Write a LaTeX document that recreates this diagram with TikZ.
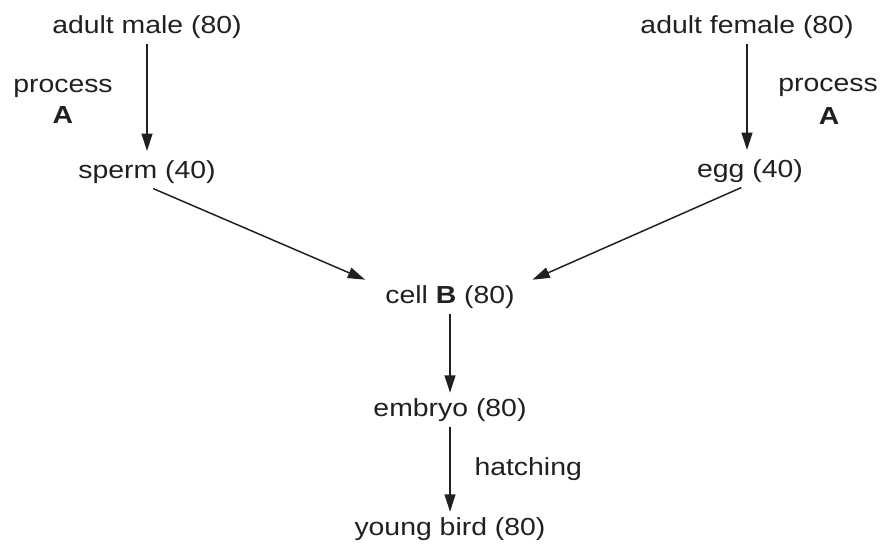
\documentclass[tikz,border=0pt]{standalone}
\usepackage{fontspec}
\setmainfont[FakeStretch=1.15]{Liberation Sans}
\usetikzlibrary{positioning,arrows.meta}
\definecolor{inkgray}{HTML}{231F20}

\begin{document}
\begin{tikzpicture}[
    x=0.405pt, y=-0.405pt,
    every node/.style={font=\fontsize{10}{12}\selectfont, text=inkgray},
    stage/.style={anchor=base, inner sep=2pt},
    note/.style={anchor=base, inner sep=0pt, align=center},
    arr/.style={-{Triangle[length=7pt, width=4.4pt]}, line width=0.6pt, draw=inkgray},
]
\useasboundingbox (0,0) rectangle (884,553);

% === Parents ===
\node[stage] (male) at (147,33) {adult male (80)};
\node[stage] (female) at (747,33) {adult female (80)};

% === Gametes ===
\node[stage] (sperm) at (147,178) {sperm (40)};
\node[stage] (egg) at (750,177) {egg (40)};

% process labels
\node[note] (procL) at (63,92) {process};
\node[note] (procLA) at (63,123) {\textbf{A}};
\node[note] (procR) at (828,91) {process};
\node[note] (procRA) at (829,124) {\textbf{A}};

% === Fertilised cell and after ===
\node[stage] (cell) at (450,303) {cell \textbf{B} (80)};
\node[stage] (embryo) at (450,416) {embryo (80)};
\node[stage] (young) at (450,535) {young bird (80)};
\node[note, anchor=base west] (hatch) at (474,475) {hatching};

% Arrows
\draw[arr, shorten >=1.5pt] (male.south) -- (sperm.north);
\draw[arr, shorten >=1.5pt] (female.south) -- (female.south |- egg.north);
\draw[arr] ([xshift=2.5pt]sperm.south) -- ([xshift=-6pt]cell.north west);
\draw[arr] ([xshift=-3.5pt]egg.south) -- ([xshift=5pt]cell.north east);
\draw[arr] (cell.south) -- (embryo.north);
\draw[arr] (embryo.south) -- (young.north);

\end{tikzpicture}
\end{document}
